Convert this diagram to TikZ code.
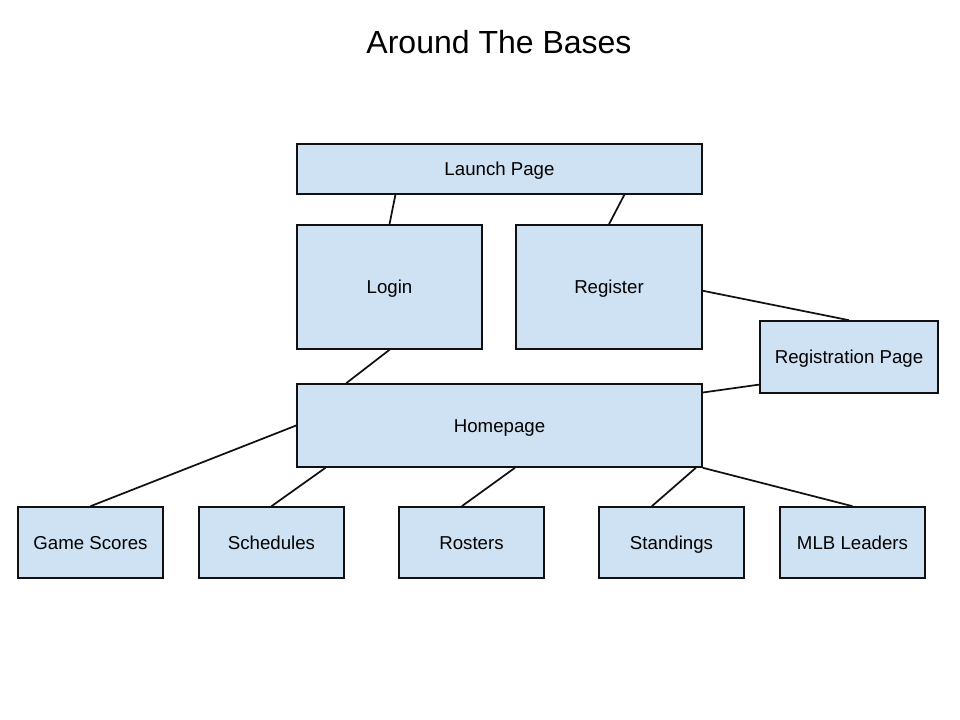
\documentclass[tikz,border=0pt]{standalone}
\usepackage{fontspec}
\setmainfont{Liberation Sans}
\usetikzlibrary{positioning,calc}
\definecolor{atbFill}{HTML}{CFE2F3}
\definecolor{atbInk}{HTML}{111111}
\tikzset{
  pg/.style={draw=atbInk, fill=atbFill, line width=1.2pt, inner sep=0pt, text height=10pt, text depth=0pt, font=\fontsize{14}{16}\selectfont, align=center},
  sz/.style 2 args={minimum width=#1*0.75pt, minimum height=#2*0.75pt},
  lnk/.style={draw=atbInk, line width=1.3pt},
}
\begin{document}
\begin{tikzpicture}[x=0.75pt,y=-0.75pt]
            \useasboundingbox (0,0) rectangle (960,720);
            \node[font=\fontsize{24}{28}\selectfont, text height=17pt, text depth=0pt] (title) at (499,42) {Around The Bases};
            % top level
            \node[pg, sz={405}{50}] (launch) at (499.5,169) {Launch Page};
            \node[pg, sz={185}{124}] (login) at (389.5,287) {Login};
            \node[pg, sz={186}{124}] (register) at (609,287) {Register};
            \node[pg, sz={178}{72}] (regpage) at (849,357) {Registration Page};
            \node[pg, sz={405}{83}] (home) at (499.5,425.5) {Homepage};
            % sections
            \foreach \n/\x/\t in {scores/90.5/Game Scores, sched/271.5/Schedules, rost/471.5/Rosters, stand/671.5/Standings, lead/852.5/MLB Leaders} {
                \node[pg, sz={145}{71}] (\n) at (\x,542.5) {\t};
            }
            % connectors
            \draw[lnk] ($(launch.south west)!.244!(launch.south east)$) -- (login.north);
            \draw[lnk] ($(launch.south west)!.807!(launch.south east)$) -- (register.north);
            \draw[lnk] ($(register.north east)!.53!(register.south east)$) -- (regpage.north);
            \draw[lnk] (login.south) -- ($(home.north west)!.123!(home.north east)$);
            \draw[lnk] ($(regpage.north west)!.875!(regpage.south west)$) -- ($(home.north east)!.11!(home.south east)$);
            \draw[lnk] (home.west) -- (scores.north);
            \draw[lnk] ($(home.south west)!.072!(home.south east)$) -- (sched.north);
            \draw[lnk] ($(home.south west)!.538!(home.south east)$) -- ($(rost.north west)!.434!(rost.north east)$);
            \draw[lnk] ($(home.south west)!.983!(home.south east)$) -- ($(stand.north west)!.366!(stand.north east)$);
            \draw[lnk] (home.south east) -- (lead.north);
        \end{tikzpicture}
\end{document}
